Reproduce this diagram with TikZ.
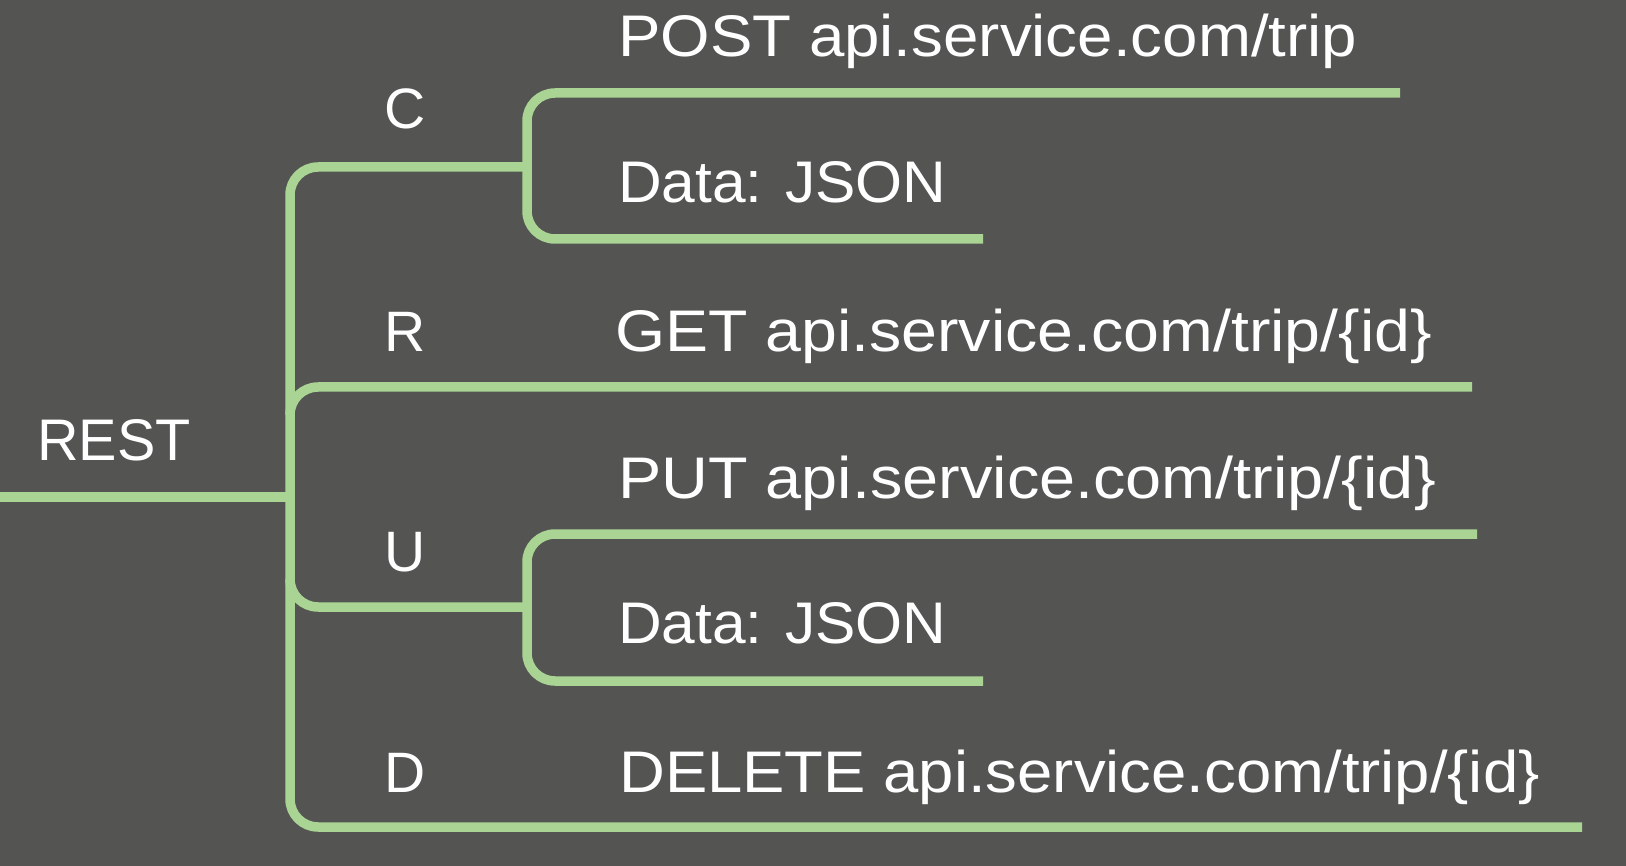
\documentclass[tikz,border=0pt]{standalone}
\usepackage{fontspec}
\setmainfont{Liberation Sans}
\definecolor{bg}{RGB}{84,85,82}
\definecolor{ln}{RGB}{170,212,148}
\begin{document}
\begin{tikzpicture}[x=1pt,y=-1pt,
  branch/.style={draw=ln, line width=9.5pt, rounded corners=28pt, line cap=butt},
  lbl/.style={text=white, inner sep=0pt, anchor=base west, font=\fontsize{58.7}{70}\selectfont},
  crud/.style={text=white, inner sep=0pt, anchor=base, font=\fontsize{57}{66}\selectfont}]
\fill[bg] (0,0) rectangle (1626,866);
\useasboundingbox (0,0) rectangle (1626,866);
% text nodes
\node[lbl] (rest) at (37,461) {\scalebox{0.98}[1]{REST}};
\node[crud] (c) at (405,129) {C};
\node[crud] (r) at (405,352) {R};
\node[crud] (u) at (405,571) {U};
\node[crud] (d) at (405,792) {D};
\node[lbl] (post) at (618,57) {\scalebox{1.084}[1]{POST api.service.com/trip}};
\node[lbl] (cdata) at (618,203) {\scalebox{1.03}[1]{Data: JSON}};
\node[lbl] (get) at (615,352) {\scalebox{1.098}[1]{GET api.service.com/trip/\{id\}}};
\node[lbl] (put) at (618,498) {\scalebox{1.104}[1]{PUT api.service.com/trip/\{id\}}};
\node[lbl] (udata) at (618,643) {\scalebox{1.03}[1]{Data: JSON}};
\node[lbl] (del) at (619,792) {\scalebox{1.081}[1]{DELETE api.service.com/trip/\{id\}}};
% junction coordinates
\coordinate (root0) at (0,497);
\coordinate (hub) at (290,497);
\coordinate (tTop) at (290,167);
\coordinate (tBot) at (290,827);
\coordinate (cJ) at (527,167);
\coordinate (dEnd) at (1582,827);
\coordinate (rFrom) at (290,415);
\coordinate (rCorner) at (290,387);
\coordinate (rEnd) at (1472,387);
\coordinate (uFrom) at (290,579);
\coordinate (uCorner) at (290,607);
\coordinate (uJ) at (527,607);
\coordinate (cTopC) at (527,93);
\coordinate (cBotC) at (527,239);
\coordinate (postEnd) at (1400,93);
\coordinate (cdataEnd) at (983,239);
\coordinate (uTopC) at (527,534);
\coordinate (uBotC) at (527,681);
\coordinate (putEnd) at (1477,534);
\coordinate (udataEnd) at (983,681);
% connectors
\draw[branch] (root0) -- (hub);
\draw[branch] (cJ) -- (tTop) -- (tBot) -- (dEnd);
\draw[branch] (rFrom) -- (rCorner) -- (rEnd);
\draw[branch] (uFrom) -- (uCorner) -- (uJ);
\draw[branch] (postEnd) -- (cTopC) -- (cBotC) -- (cdataEnd);
\draw[branch] (putEnd) -- (uTopC) -- (uBotC) -- (udataEnd);
\end{tikzpicture}
\end{document}
